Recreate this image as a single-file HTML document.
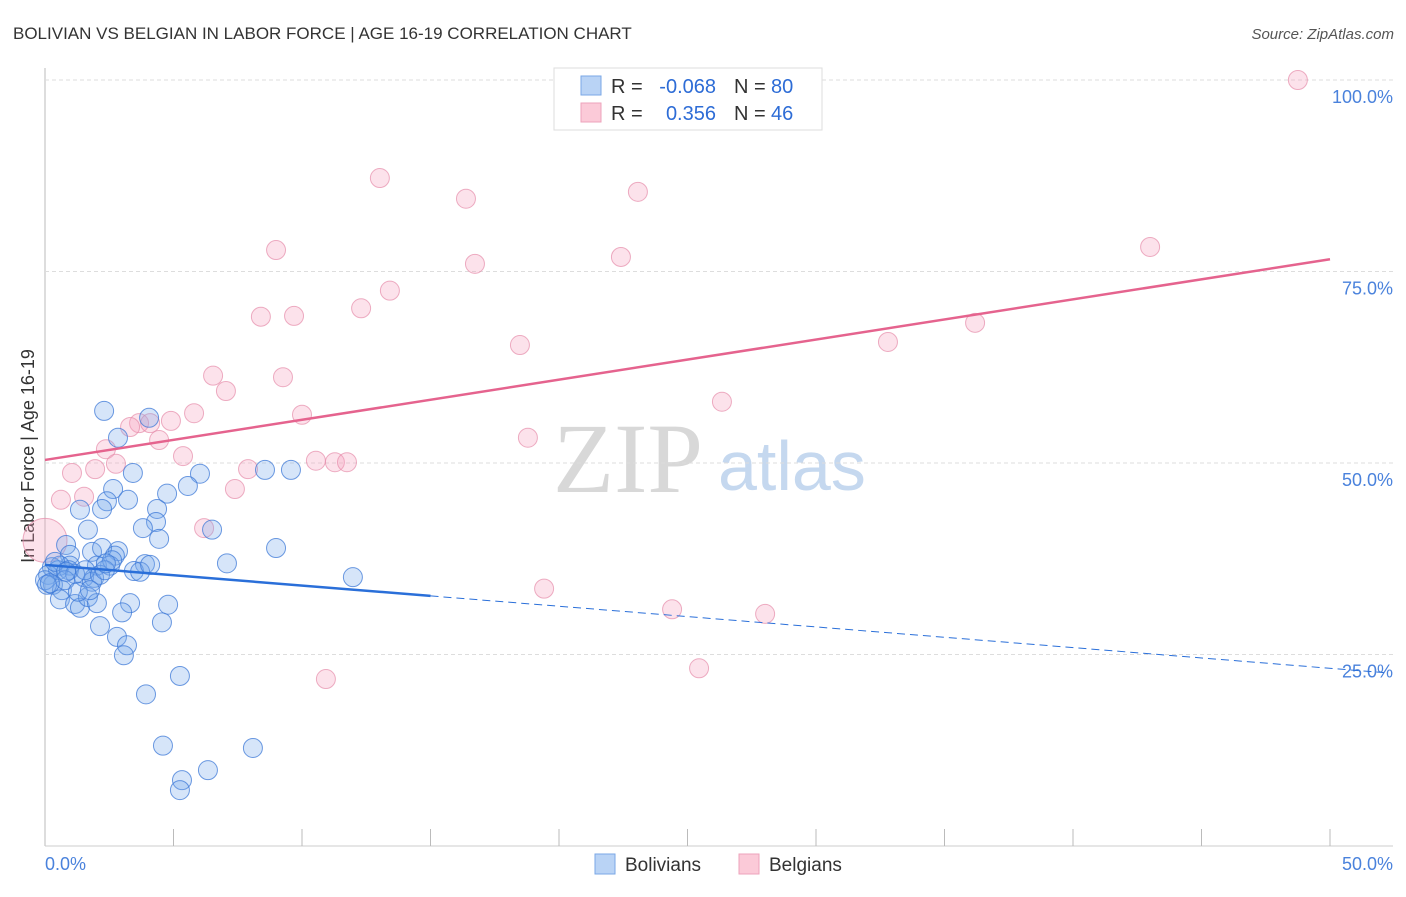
<!DOCTYPE html>
<html><head><meta charset="utf-8"><style>
body{margin:0;background:#fff;font-family:"Liberation Sans",sans-serif;}
svg text{font-family:"Liberation Sans",sans-serif;}
</style></head><body>
<svg id="chart" width="1406" height="892" xmlns="http://www.w3.org/2000/svg">
<text x="13" y="39" font-size="17" fill="#333">BOLIVIAN VS BELGIAN IN LABOR FORCE | AGE 16-19 CORRELATION CHART</text>
<text x="1394" y="39" font-size="15" fill="#555" font-style="italic" text-anchor="end">Source: ZipAtlas.com</text>
<text x="553" y="492" font-size="100" font-family="Liberation Serif" fill="#d8d8d8" style="font-family:'Liberation Serif',serif">ZIP</text>
<text x="718" y="490" font-size="70" fill="#c5d8ef">atlas</text>
<text transform="translate(34,456) rotate(-90)" font-size="18" fill="#333" text-anchor="middle">In Labor Force | Age 16-19</text>
<g id="grid"></g><g id="pts"></g><g id="trend"></g>
<g>
<rect x="554" y="68" width="268" height="62" fill="#fff" stroke="#ddd"/>
<rect x="581" y="76" width="20" height="19" fill="#b9d3f5" stroke="#7aa7e6"/>
<rect x="581" y="103" width="20" height="19" fill="#fbcad8" stroke="#eea3bb"/>
<text x="611" y="93" font-size="20" fill="#333">R =</text>
<text x="716" y="93" font-size="20" fill="#2d6cd6" text-anchor="end">-0.068</text>
<text x="734" y="93" font-size="20" fill="#333">N =</text>
<text x="771" y="93" font-size="20" fill="#2d6cd6">80</text>
<text x="611" y="120" font-size="20" fill="#333">R =</text>
<text x="716" y="120" font-size="20" fill="#2d6cd6" text-anchor="end">0.356</text>
<text x="734" y="120" font-size="20" fill="#333">N =</text>
<text x="771" y="120" font-size="20" fill="#2d6cd6">46</text>
</g>
<g>
<rect x="595" y="854" width="20" height="20" fill="#b9d3f5" stroke="#7aa7e6"/>
<text x="625" y="871" font-size="19" fill="#333">Bolivians</text>
<rect x="739" y="854" width="20" height="20" fill="#fbcad8" stroke="#eea3bb"/>
<text x="769" y="871" font-size="19" fill="#333">Belgians</text>
</g>
</svg>
<script>
const blueX=[2.30,4.05,2.84,3.42,6.03,8.56,9.57,5.56,2.65,2.41,3.23,4.75,1.36,2.22,4.36,4.32,3.81,1.67,4.44,6.50,8.99,7.08,11.98,0.82,0.97,1.83,2.84,2.22,2.72,3.89,3.46,2.53,2.02,0.97,0.58,0.27,0.12,0.31,0.51,1.52,1.91,1.83,0.66,0.58,1.17,1.36,1.67,2.02,3.31,3.00,4.79,4.55,2.14,2.80,3.19,3.07,3.93,5.25,4.59,8.09,5.33,5.25,6.34,0,0.08,0.39,0.93,1.17,1.56,2.14,3.70,2.61,0.78,0.19,1.28,1.75,2.33,2.37,0.82,4.09];
const blueY=[56.8,55.9,53.3,48.7,48.6,49.1,49.1,47.0,46.6,45.0,45.2,46.0,43.9,44.0,44.0,42.3,41.5,41.3,40.1,41.3,38.9,36.9,35.1,39.3,38.0,38.4,38.5,38.9,37.9,36.8,35.9,36.6,36.6,36.6,36.6,36.4,35.4,34.1,36.0,35.1,35.0,34.5,33.4,32.2,31.6,31.1,32.5,31.7,31.7,30.5,31.5,29.2,28.7,27.3,26.2,24.9,19.8,22.2,13.1,12.8,8.6,7.3,9.9,34.7,34.1,37.1,36.0,35.5,36.0,35.4,35.8,37.3,34.7,34.3,33.2,33.4,36.0,36.9,35.8,36.7];
const pinkX=[48.75,13.03,16.38,23.07,8.99,16.73,22.41,43.0,13.42,12.30,8.40,9.69,18.48,32.80,36.19,6.54,9.26,7.04,26.34,10.0,5.80,4.90,3.66,4.09,4.44,2.37,5.37,18.79,2.76,1.95,1.05,7.90,10.54,11.28,11.75,7.39,1.52,0.62,6.19,19.42,24.40,28.02,25.45,10.93,0,3.31];
const pinkY=[100,87.2,84.5,85.4,77.8,76.0,76.9,78.2,72.5,70.2,69.1,69.2,65.4,65.8,68.3,61.4,61.2,59.4,58.0,56.3,56.5,55.5,55.2,55.2,53.0,51.8,50.9,53.3,49.9,49.2,48.7,49.2,50.3,50.1,50.1,46.6,45.6,45.2,41.5,33.6,30.9,30.3,23.2,21.8,39.9,54.7];
const yTicks=[25,50,75,100];
const yTickLabels=["25.0%","50.0%","75.0%","100.0%"];
const xTicks=[0,5,10,15,20,25,30,35,40,45,50];
const blueTrend=[36.7,23.2];
const pinkTrend=[50.4,76.6];

const NS="http://www.w3.org/2000/svg";
const sx=v=>45+v/50*1285, sy=v=>846-v/100*766;
function mk(t,a,p){const e=document.createElementNS(NS,t);for(const k in a)e.setAttribute(k,a[k]);p.appendChild(e);return e;}
const grid=document.getElementById('grid');
mk('line',{x1:45,y1:68,x2:45,y2:846,stroke:'#bbb'},grid);
mk('line',{x1:45,y1:846,x2:1393,y2:846,stroke:'#ccc'},grid);
yTicks.forEach((v,i)=>{
 const l=mk('line',{x1:45,y1:sy(v),x2:1393,y2:sy(v),stroke:'#ddd','stroke-dasharray':'4,3'},grid);
 
 
 const t=mk('text',{x:1393,y:sy(v)+23,'font-size':18,fill:'#4a82dc','text-anchor':'end'},grid);
 t.textContent=yTickLabels[i];
 
 
});
xTicks.forEach(v=>{
 if(v===0)return;
 const l=mk('line',{x1:sx(v),y1:829,x2:sx(v),y2:846,stroke:'#bbb'},grid);
 
 
});
let t0=mk('text',{x:45,y:870,'font-size':18,fill:'#4a82dc'},grid);t0.textContent='0.0%';


let t1=mk('text',{x:1393,y:870,'font-size':18,fill:'#4a82dc','text-anchor':'end'},grid);t1.textContent='50.0%';


const pts=document.getElementById('pts');
pinkX.forEach((x,i)=>{
 const c=mk('circle',{cx:sx(x),cy:sy(pinkY[i]),r:(i===44?22:9.5),fill:'rgba(244,160,190,0.3)',stroke:'rgba(230,140,170,0.7)','stroke-width':1},pts);
 
 
});
blueX.forEach((x,i)=>{
 const c=mk('circle',{cx:sx(x),cy:sy(blueY[i]),r:9.5,fill:'rgba(120,170,235,0.3)',stroke:'rgba(60,120,215,0.75)','stroke-width':1},pts);
 
 
});
const tr=document.getElementById('trend');
const by=x=>blueTrend[0]+(blueTrend[1]-blueTrend[0])*x/50;
let b1=mk('line',{x1:sx(0),y1:sy(by(0)),x2:sx(15),y2:sy(by(15)),stroke:'#2a6fd9','stroke-width':2.5},tr);


let b2=mk('line',{x1:sx(15),y1:sy(by(15)),x2:sx(52.1),y2:sy(by(52.1)),stroke:'#2a6fd9','stroke-width':1,'stroke-dasharray':'8,5'},tr);


let p1=mk('line',{x1:sx(0),y1:sy(pinkTrend[0]),x2:sx(50),y2:sy(pinkTrend[1]),stroke:'#e5638e','stroke-width':2.5},tr);


</script>
</body></html>
